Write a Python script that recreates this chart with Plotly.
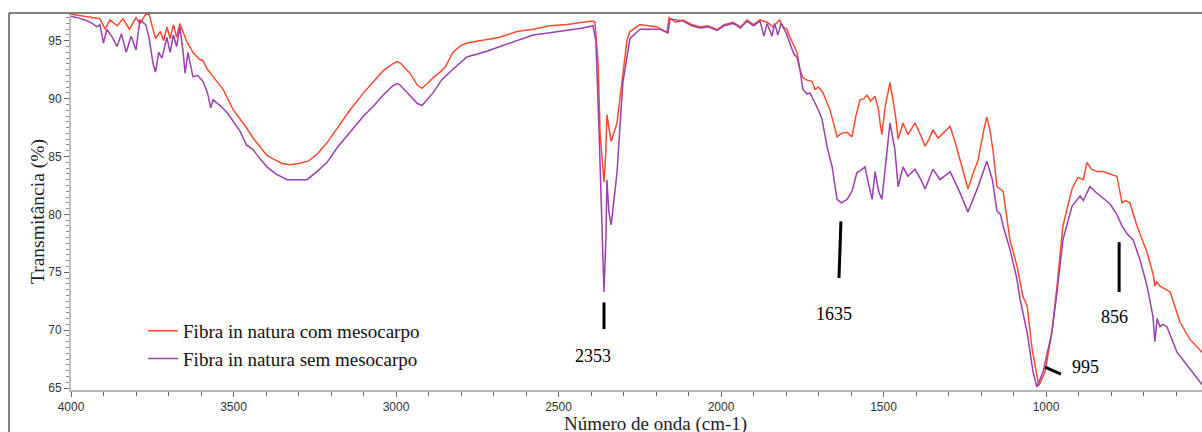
import plotly.graph_objects as go

# ---- data ----
wn_com = [4000, 3957, 3911, 3895, 3880, 3858, 3840, 3820, 3800, 3788, 3770, 3760, 3740, 3725, 3715,
          3705, 3695, 3685, 3675, 3665, 3655, 3645, 3625, 3605, 3594, 3582, 3563, 3545, 3532, 3502,
          3480, 3458, 3440, 3418, 3397, 3378, 3350, 3326, 3300, 3270, 3243, 3212, 3180, 3142, 3100,
          3071, 3040, 3010, 2997, 2988, 2957, 2935, 2920, 2900, 2886, 2860, 2849, 2825, 2800, 2782,
          2720, 2680, 2628, 2578, 2526, 2474, 2425, 2394, 2388, 2378, 2372, 2366, 2360, 2355, 2351,
          2345, 2338, 2320, 2305, 2289, 2280, 2249, 2197, 2166, 2160, 2140, 2117, 2090, 2065, 2040,
          2012, 1990, 1963, 1940, 1920, 1900, 1880, 1858, 1840, 1820, 1809, 1797, 1788, 1775, 1766,
          1757, 1748, 1735, 1720, 1711, 1700, 1686, 1665, 1650, 1643, 1630, 1612, 1597, 1585, 1572,
          1560, 1551, 1540, 1526, 1515, 1511, 1505, 1495, 1480, 1471, 1462, 1455, 1440, 1425, 1403,
          1385, 1372, 1360, 1348, 1332, 1310, 1295, 1280, 1265, 1240, 1225, 1209, 1190, 1182, 1172,
          1163, 1151, 1132, 1111, 1089, 1071, 1058, 1043, 1022, 1003, 982, 966, 948, 920, 902,
          885, 874, 860, 843, 825, 800, 782, 766, 755, 742, 720, 689, 670, 665, 660,
          649, 618, 597, 588, 557, 520]
t_com = [97.3, 97.1, 96.9, 96.0, 96.8, 96.3, 96.9, 96.0, 97.0, 96.5, 97.3, 97.3, 95.2, 95.8, 95.0,
         96.2, 95.2, 96.4, 95.3, 96.5, 95.8, 95.0, 94.0, 93.4, 93.3, 92.6, 91.9, 91.3, 90.8, 89.1,
         88.3, 87.4, 86.6, 85.8, 85.1, 84.8, 84.4, 84.3, 84.4, 84.6, 85.2, 86.2, 87.5, 89.0, 90.5,
         91.4, 92.4, 93.0, 93.2, 93.1, 92.2, 91.2, 90.9, 91.4, 91.8, 92.4, 92.7, 94.0, 94.6, 94.8,
         95.1, 95.3, 95.8, 96.0, 96.3, 96.4, 96.6, 96.7, 96.6, 93.0, 87.0, 84.5, 82.8, 85.0, 88.6,
         87.5, 86.3, 87.9, 91.4, 95.1, 95.8, 96.4, 96.2, 95.7, 97.0, 96.6, 96.8, 96.4, 96.2, 96.3,
         95.95, 96.4, 96.6, 96.2, 96.8, 96.4, 96.8, 96.6, 96.2, 96.8, 96.2, 96.0, 95.3, 94.5, 94.0,
         92.5, 91.8, 91.6, 91.5, 90.8, 91.0, 90.5, 89.05, 87.5, 86.7, 87.0, 87.1, 86.7, 88.5, 89.9,
         90.0, 90.3, 89.8, 90.2, 89.0, 88.0, 86.9, 89.3, 91.4, 89.9, 88.3, 86.5, 87.9, 86.9, 87.9,
         86.8, 85.9, 86.5, 87.3, 86.6, 87.2, 87.6, 86.3, 84.7, 82.2, 83.5, 84.7, 87.5, 88.4, 87.2,
         85.5, 82.4, 82.0, 77.8, 75.5, 72.9, 72.1, 68.4, 65.2, 66.4, 69.8, 73.8, 79.0, 82.2, 83.2,
         83.0, 84.5, 83.9, 83.7, 83.7, 83.5, 83.3, 81.0, 81.2, 81.0, 79.0, 76.7, 74.8, 73.8, 74.2,
         73.8, 73.3, 71.5, 70.7, 69.2, 68.1]

wn_sem = [4000, 3980, 3957, 3935, 3920, 3911, 3900, 3890, 3875, 3858, 3845, 3830, 3815, 3800, 3788,
          3770, 3760, 3748, 3740, 3730, 3720, 3705, 3695, 3685, 3675, 3665, 3655, 3649, 3640, 3625,
          3610, 3594, 3580, 3570, 3563, 3545, 3520, 3500, 3480, 3460, 3440, 3418, 3397, 3370, 3335,
          3300, 3274, 3243, 3212, 3180, 3142, 3100, 3071, 3040, 3010, 2997, 2988, 2957, 2935, 2920,
          2900, 2886, 2860, 2834, 2782, 2720, 2680, 2628, 2578, 2526, 2474, 2425, 2394, 2385, 2375,
          2366, 2360, 2354, 2351, 2345, 2338, 2320, 2302, 2280, 2249, 2188, 2163, 2157, 2117, 2090,
          2065, 2040, 2012, 1990, 1963, 1940, 1920, 1900, 1880, 1868, 1858, 1843, 1835, 1825, 1815,
          1800, 1788, 1775, 1766, 1757, 1748, 1735, 1726, 1711, 1700, 1689, 1674, 1658, 1643, 1630,
          1612, 1597, 1582, 1570, 1557, 1545, 1535, 1526, 1515, 1505, 1495, 1480, 1465, 1455, 1440,
          1425, 1403, 1385, 1372, 1348, 1326, 1295, 1265, 1240, 1209, 1182, 1165, 1151, 1140, 1132,
          1111, 1090, 1080, 1058, 1040, 1028, 1009, 982, 966, 948, 920, 895, 885, 865, 850,
          834, 803, 782, 766, 750, 732, 711, 689, 671, 665, 658, 649, 640, 628, 597,
          557, 520]
t_sem = [97.1, 97.0, 96.8, 96.5, 96.2, 96.4, 94.8, 96.0, 95.4, 94.5, 95.6, 94.0, 95.4, 94.2, 96.8,
         96.4, 95.3, 93.1, 92.3, 94.0, 93.5, 95.3, 94.0, 95.5, 94.5, 96.2, 94.0, 92.2, 94.0, 91.9,
         92.0, 91.5, 90.5, 89.2, 89.9, 89.5, 88.8, 88.0, 87.2, 86.0, 85.6, 84.8, 84.1, 83.5, 83.0,
         83.0, 83.0, 83.7, 84.5, 85.8, 87.1, 88.5, 89.3, 90.3, 91.1, 91.3, 91.2, 90.3, 89.6, 89.4,
         90.1, 90.5, 91.6, 92.3, 93.6, 94.1, 94.5, 95.0, 95.5, 95.7, 95.9, 96.1, 96.3, 95.0, 87.0,
         79.8, 73.3, 78.0, 83.0, 80.2, 79.1, 83.6, 91.4, 95.2, 96.0, 96.0, 95.7, 96.9, 96.7, 96.3,
         96.1, 96.2, 95.9, 96.3, 96.5, 96.1, 96.7, 96.3, 96.7, 95.4, 96.5, 95.4, 96.5, 95.5, 96.5,
         95.7, 94.8, 93.8, 93.6, 92.5, 90.8, 90.4, 90.5, 89.7, 89.0, 88.2, 85.9, 84.1, 81.3, 81.0,
         81.3, 82.0, 83.6, 83.8, 84.1, 82.5, 81.3, 83.7, 82.0, 81.3, 84.1, 87.9, 85.6, 82.4, 84.1,
         83.3, 83.9, 83.0, 82.2, 83.9, 83.0, 83.7, 81.9, 80.2, 82.4, 84.6, 83.0, 80.3, 80.0, 79.0,
         77.0, 74.5, 72.7, 69.8, 66.4, 65.1, 66.4, 69.8, 73.3, 77.8, 80.7, 81.6, 81.2, 82.4, 82.0,
         81.6, 80.9, 80.0, 79.0, 78.3, 77.8, 76.1, 73.8, 71.2, 69.0, 71.0, 70.3, 70.5, 70.3, 68.1,
         66.6, 65.3]

series_names = ["Fibra in natura com mesocarpo", "Fibra in natura sem mesocarpo"]
series_colors = ["#ff4a2e", "#9a3fae"]

peak_labels = ["2353", "1635", "995", "856"]
# marker segment (x0, y0, x1, y1) and label position (x, y) in data units
peak_marks = [(2360, 72.4, 2360, 70.1), (1631, 79.4, 1637, 74.5),
              (1003, 66.8, 954, 66.2), (775, 77.6, 775, 73.3)]
peak_text_pos = [(2394, 67.8), (1652, 71.4), (880, 66.8), (788, 71.1)]

y_ticks = [65, 70, 75, 80, 85, 90, 95]
x_ticks = [4000, 3500, 3000, 2500, 2000, 1500, 1000]

fig = go.Figure()
fig.add_trace(go.Scatter(x=wn_com, y=t_com, mode="lines", name=series_names[0],
                         line=dict(color=series_colors[0], width=1.5)))
fig.add_trace(go.Scatter(x=wn_sem, y=t_sem, mode="lines", name=series_names[1],
                         line=dict(color=series_colors[1], width=1.5)))

serif = "Liberation Serif, Times New Roman, serif"
for (x0, y0, x1, y1) in peak_marks:
    fig.add_shape(type="line", xref="x", yref="y", x0=x0, y0=y0, x1=x1, y1=y1,
                  line=dict(color="black", width=3))
for lab, (tx, ty) in zip(peak_labels, peak_text_pos):
    fig.add_annotation(x=tx, y=ty, xref="x", yref="y", text=lab, showarrow=False,
                       font=dict(family=serif, size=18, color="black"))

# outer frame
fig.add_shape(type="line", xref="paper", yref="paper", x0=-0.0548, x1=1.01, y0=1, y1=1,
              line=dict(color="#555555", width=1.5))
fig.add_shape(type="line", xref="paper", yref="paper", x0=-0.0548, x1=-0.0548, y0=-0.2, y1=1,
              line=dict(color="#555555", width=1.5))

fig.add_annotation(text="Transmitância (%)", xref="paper", yref="paper",
                   x=(25 - 71) / 1131, y=(390 - 212) / 377, textangle=-90, showarrow=False,
                   font=dict(family=serif, size=19.5, color="#222"))
fig.add_annotation(text="Número de onda (cm-1)", xref="paper", yref="paper",
                   x=(655 - 71) / 1131, y=-(424 - 390) / 377, showarrow=False, yanchor="middle",
                   font=dict(family=serif, size=19, color="#222"))

fig.update_layout(
    width=1202, height=432,
    margin=dict(l=71, r=0, t=13, b=42),
    paper_bgcolor="white", plot_bgcolor="white",
    showlegend=True,
    legend=dict(x=0.0637, y=0.207, xanchor="left", yanchor="top",
                bgcolor="rgba(0,0,0,0)", font=dict(family=serif, size=19, color="#111"),
                tracegroupgap=0, itemwidth=30),
)
fig.update_xaxes(range=[4000, 520], tickvals=x_ticks, showgrid=False, zeroline=False,
                 showline=True, linecolor="#b4b4b4", linewidth=2,
                 ticks="outside", ticklen=5, tickcolor="#666",
                 minor=dict(dtick=100, ticks="outside", ticklen=4, tickcolor="#666"),
                 tickfont=dict(family="Liberation Sans, Arial", size=12, color="#333"))
fig.update_yaxes(range=[64.83, 97.4], tickvals=y_ticks, showgrid=False, zeroline=False,
                 showline=True, linecolor="#c0c0c0", linewidth=2,
                 ticks="outside", ticklen=5, tickcolor="#666",
                 minor=dict(dtick=0.5, ticks="outside", ticklen=3, tickcolor="#888"),
                 tickfont=dict(family="Liberation Sans, Arial", size=12, color="#333"))

fig.write_html("out.html")
